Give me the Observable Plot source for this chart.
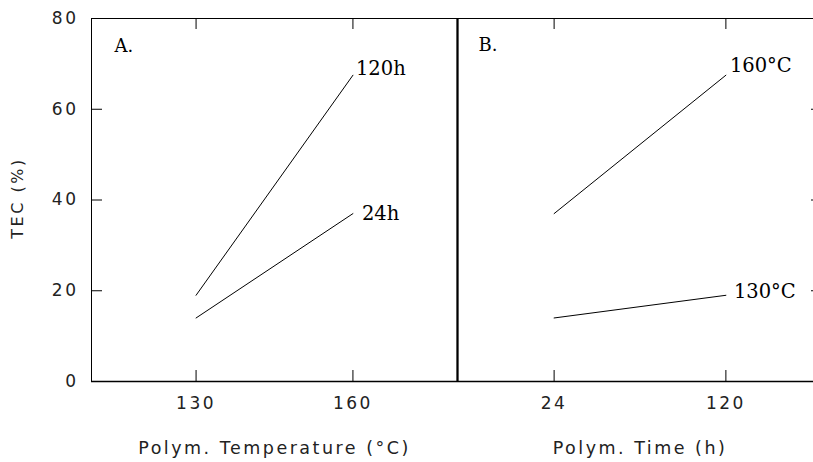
<!DOCTYPE html>
<html><head><meta charset="utf-8">
<script src="https://cdn.jsdelivr.net/npm/d3@7"></script>
<script src="https://cdn.jsdelivr.net/npm/@observablehq/plot@0.6"></script>
<style>
html,body{margin:0;padding:0;background:#fff;overflow:hidden;}
#wrap{position:relative;width:813px;height:462px;overflow:hidden;}
#wrap > svg{position:absolute;top:0;}
</style></head><body><div id="wrap"></div>
<script>
// Panel A: TEC vs polymerization temperature
const temps = [130, 160];
const tec24h = [14, 37];
const tec120h = [19, 67.5];
// Panel B: TEC vs polymerization time
const times = [24, 120];
const tec130C = [14, 19];
const tec160C = [37, 67.5];
const yTicks = [0, 20, 40, 60, 80];

const panelA = [
  ...temps.map((x, i) => ({series: "24h", x, y: tec24h[i]})),
  ...temps.map((x, i) => ({series: "120h", x, y: tec120h[i]}))
];
const panelB = [
  ...times.map((x, i) => ({series: "130°C", x, y: tec130C[i]})),
  ...times.map((x, i) => ({series: "160°C", x, y: tec160C[i]}))
];
const lastOf = (data, s) => data.filter(d => d.series === s).slice(-1);

const serif = {fontFamily: "DejaVu Serif", fill: "#000"};
const TL = 11; // inward tick length
const PH = 363; // plot height (462 - 18 - 81)

const common = {
  height: 462, marginTop: 18, marginBottom: 81,
  style: {overflow: "visible", background: "none"}
};

function xTickMarks(xt) {
  return [
    Plot.ruleX(xt, {insetTop: PH - TL, stroke: "#000", strokeWidth: 1}),
    Plot.ruleX(xt, {insetBottom: PH - TL, stroke: "#000", strokeWidth: 1})
  ];
}

const LW = 457 - 91;
const left = Plot.plot({
  ...common,
  width: 457, marginLeft: 91, marginRight: 0,
  x: {domain: [110, 180]},
  y: {domain: [0, 80]},
  marks: [
    Plot.frame({stroke: "#000", strokeWidth: 1}),
    Plot.ruleY([0], {stroke: "#000", strokeWidth: 1.6}),
    Plot.ruleX([180], {stroke: "#000", strokeWidth: 1.8}),
    ...xTickMarks(temps),
    Plot.ruleY(yTicks, {insetRight: LW - TL, stroke: "#000", strokeWidth: 1}),
    Plot.axisY(yTicks, {anchor: "left", tickSize: 0, tickPadding: 13, label: null}),
    Plot.axisX(temps, {anchor: "bottom", tickSize: 0, tickPadding: 15, label: null}),
    Plot.lineY(panelA, {x: "x", y: "y", z: "series", stroke: "#000", strokeWidth: 1}),
    Plot.text(lastOf(panelA, "120h"), {x: "x", y: "y", text: "series", textAnchor: "start", dx: 3, dy: -6, fontSize: 19.5, ...serif}),
    Plot.text(lastOf(panelA, "24h"), {x: "x", y: "y", text: "series", textAnchor: "start", dx: 9, dy: 0, fontSize: 19.5, ...serif}),
    Plot.text(["A."], {frameAnchor: "top-left", dx: 23, dy: 28, lineAnchor: "middle", fontSize: 18, ...serif}),
    Plot.text(["Polym. Temperature (°C)"], {frameAnchor: "bottom", textAnchor: "middle", dy: 67, lineAnchor: "middle", fontSize: 17.5, fontFamily: "DejaVu Sans", fill: "#222"}),
    Plot.text(["TEC (%)"], {frameAnchor: "left", textAnchor: "middle", rotate: -90, dx: -74, dy: -2, lineAnchor: "middle", fontSize: 16, fontFamily: "DejaVu Sans", fill: "#222"})
  ]
});

const RW = 365;
const right = Plot.plot({
  ...common,
  width: RW, marginLeft: 0, marginRight: 0,
  x: {domain: [-30, 174]},
  y: {domain: [0, 80], axis: null},
  marks: [
    Plot.frame({stroke: "#000", strokeWidth: 1}),
    Plot.ruleY([0], {stroke: "#000", strokeWidth: 1.6}),
    Plot.ruleX([-30], {stroke: "#000", strokeWidth: 1.8}),
    ...xTickMarks(times),
    Plot.ruleY(yTicks, {insetLeft: RW - TL, stroke: "#000", strokeWidth: 1}),
    Plot.axisX(times, {anchor: "bottom", tickSize: 0, tickPadding: 15, label: null}),
    Plot.lineY(panelB, {x: "x", y: "y", z: "series", stroke: "#000", strokeWidth: 1}),
    Plot.text(lastOf(panelB, "160°C"), {x: "x", y: "y", text: "series", textAnchor: "start", dx: 4, dy: -9, fontSize: 19.5, ...serif}),
    Plot.text(lastOf(panelB, "130°C"), {x: "x", y: "y", text: "series", textAnchor: "start", dx: 8, dy: -4, fontSize: 19.5, ...serif}),
    Plot.text(["B."], {frameAnchor: "top-left", dx: 21, dy: 27, lineAnchor: "middle", fontSize: 18, ...serif}),
    Plot.text(["Polym. Time (h)"], {frameAnchor: "bottom", textAnchor: "middle", dy: 67, lineAnchor: "middle", fontSize: 17.5, fontFamily: "DejaVu Sans", fill: "#222"})
  ]
});

const wrap = document.getElementById("wrap");
left.style.left = "0px";
right.style.left = "457px";
wrap.appendChild(left);
wrap.appendChild(right);
for (const svg of [left, right]) {
  d3.select(svg).selectAll('g[font-family="DejaVu Sans"]').style("letter-spacing", "2.5px");
  d3.select(svg).selectAll('g[aria-label="x-axis tick label"], g[aria-label="y-axis tick label"]')
    .attr("font-family", "DejaVu Sans").attr("font-size", 17).attr("fill", "#222")
    .style("letter-spacing", "2.5px");
}
</script></body></html>
